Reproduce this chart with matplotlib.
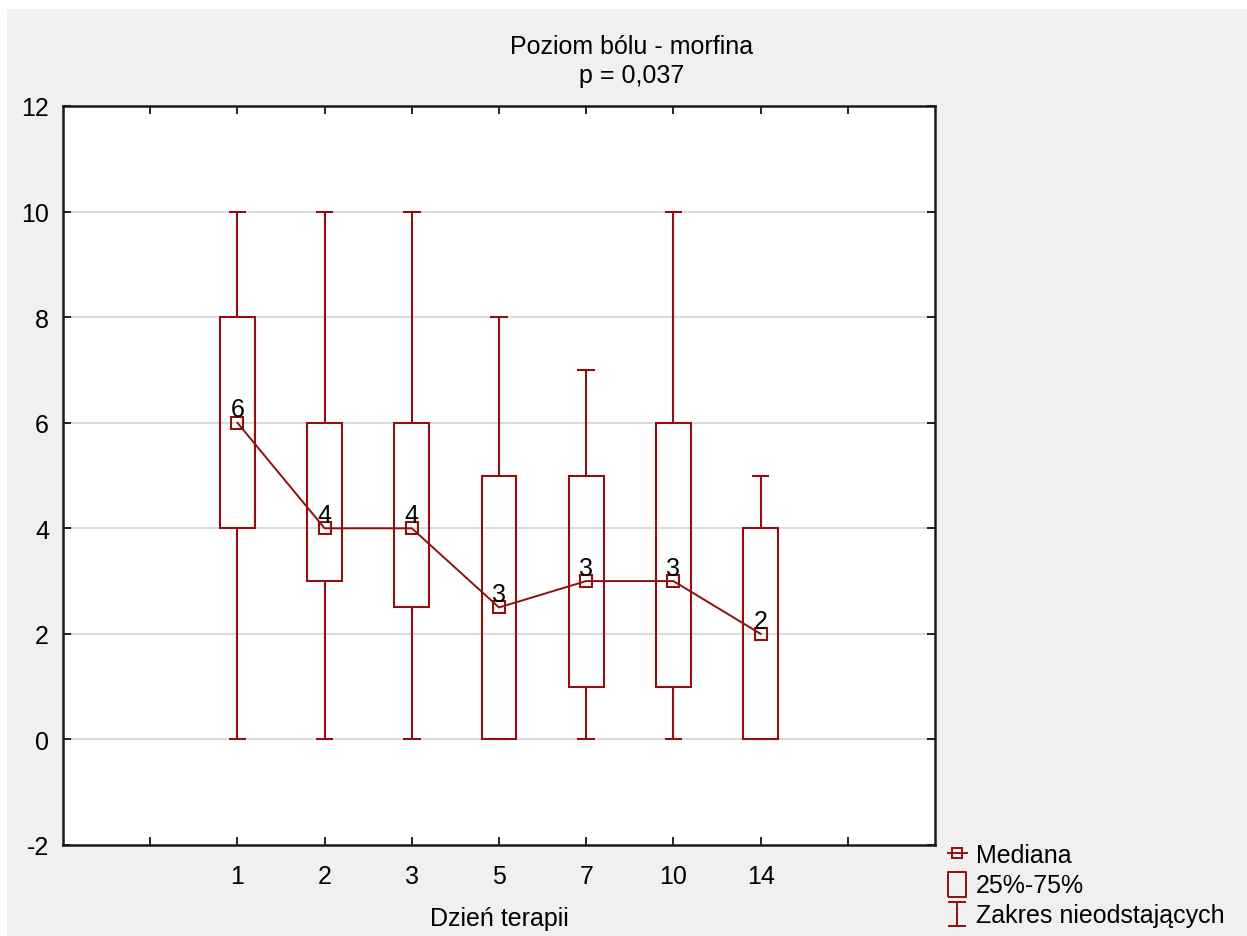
# -- Poziom bólu - morfina: box plot by day of therapy

import numpy as np
import matplotlib.pyplot as plt
from matplotlib.lines import Line2D
from matplotlib.patches import Rectangle
from matplotlib.path import Path

plt.rcParams['font.family'] = ['Liberation Sans', 'DejaVu Sans']

# Data
days          = ["1", "2", "3", "5", "7", "10", "14"]
medians       = [6, 4, 4, 2.5, 3, 3, 2]
median_labels = ["6", "4", "4", "3", "3", "3", "2"]
q1            = [4, 3, 2.5, 0, 1, 1, 0]
q3            = [8, 6, 6, 5, 5, 6, 4]
whisker_lo    = [0, 0, 0, 0, 0, 0, 0]
whisker_hi    = [10, 10, 10, 8, 7, 10, 5]

red = "#8e1010"
fs = 18
pos = np.arange(len(days)) + 2

fig = plt.figure(figsize=(12.47, 9.37), dpi=100, facecolor="white")
fig.patches.append(Rectangle((7 / 1247, 0), 1, 1 - 10 / 937, transform=fig.transFigure,
                             facecolor="#f0f0f0", edgecolor="none", zorder=-10))
ax = fig.add_axes([63 / 1247, 1 - 846 / 937, 872 / 1247, 739 / 937])
ax.set_facecolor("white")

# whiskers + caps
ax.vlines(pos, whisker_lo, q1, color=red, lw=1.5, zorder=3)
ax.vlines(pos, q3, whisker_hi, color=red, lw=1.5, zorder=3)
ax.hlines(whisker_lo, pos - 0.1, pos + 0.1, color=red, lw=1.5, zorder=3)
ax.hlines(whisker_hi, pos - 0.1, pos + 0.1, color=red, lw=1.5, zorder=3)

# boxes
heights = np.array(q3) - np.array(q1)
ax.bar(pos, heights, bottom=q1, width=0.4, fill=False, edgecolor=red, lw=1.5, zorder=3)

# medians
ax.plot(pos, medians, color=red, lw=1.4, marker="s", ms=8.5, mfc="none", mew=1.5, zorder=4)
for x, m, lab in zip(pos, medians, median_labels):
    ax.annotate(lab, (x, m), xytext=(0, 4.5), textcoords="offset points",
                ha="center", va="baseline", fontsize=fs, color="black", zorder=5)

ax.set_xlim(0, 10)
ax.set_ylim(-2, 12)
ax.set_xticks(np.arange(1, 10))
ax.set_xticklabels([""] + days + [""])
ax.set_yticks(np.arange(-2, 13, 2))
ax.set_yticklabels([str(v) for v in range(-2, 13, 2)])
ax.tick_params(direction="in", top=True, right=True, length=6, width=1.2, labelsize=fs)
ax.tick_params(axis="x", pad=14)
ax.tick_params(axis="y", pad=10)
for s in ax.spines.values():
    s.set_linewidth(1.8)
    s.set_color("#1a1a1a")
for y in range(0, 12, 2):
    ax.axhline(y, color="#d8d8d8", lw=1.3, zorder=1)

ax.set_xlabel("Dzień terapii", fontsize=fs, labelpad=13)
fig.text(632 / 1247, 1 - 47 / 937, "Poziom bólu - morfina", ha="center", va="center", fontsize=fs)
fig.text(632 / 1247, 1 - 76 / 937, "p = 0,037", ha="center", va="center", fontsize=fs)

# legend
whisker_marker = Path([(-0.8, -1), (0.8, -1), (0, -1), (0, 1), (-0.8, 1), (0.8, 1)],
                      [Path.MOVETO, Path.LINETO, Path.MOVETO, Path.LINETO, Path.MOVETO, Path.LINETO])
box_marker = Path([(-0.75, -1), (0.75, -1), (0.75, 1), (-0.75, 1), (-0.75, -1)])
handles = [
    Line2D([], [], color=red, marker="s", ms=7, mfc="none", mew=1.4, lw=1.4),
    Line2D([], [], color=red, marker=box_marker, ms=18, mfc="none", mew=1.4, lw=0,
           solid_joinstyle="miter"),
    Line2D([], [], color=red, marker=whisker_marker, ms=17, mew=1.4, lw=0),
]
fig.legend(handles, ["Mediana", "25%-75%", "Zakres nieodstających"],
           loc="upper left", bbox_to_anchor=(948 / 1247, 1 - 844 / 937), frameon=False,
           fontsize=fs, handlelength=0.75, handletextpad=0.35, labelspacing=0.25,
           borderpad=0, borderaxespad=0)

plt.savefig("out.png", dpi=100)
